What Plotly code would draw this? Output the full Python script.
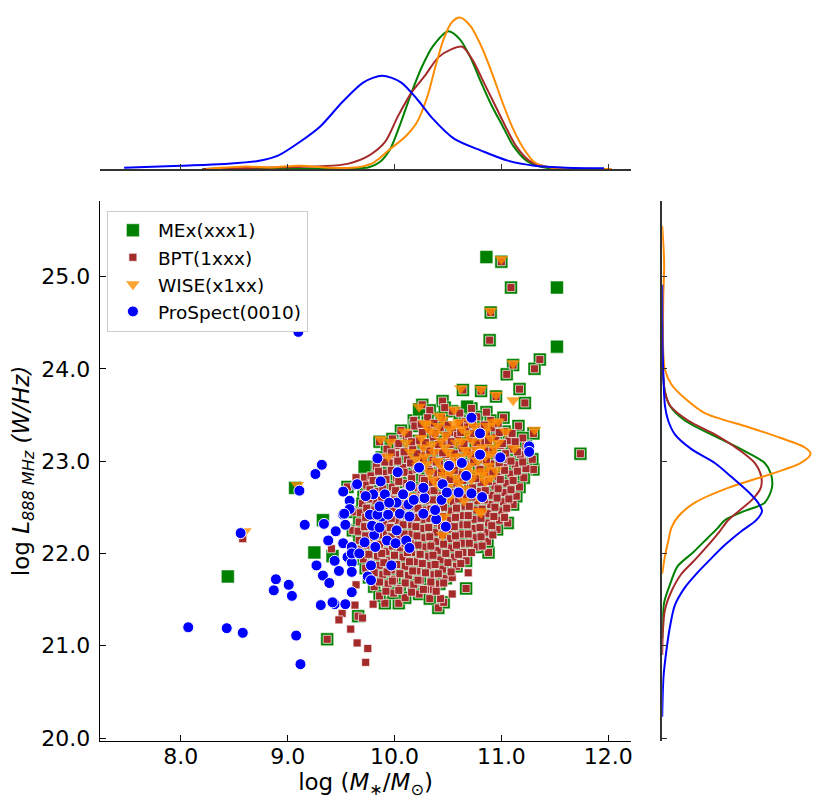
import plotly.graph_objects as go

# galaxies flagged by both MEx and BPT (brown square drawn on a green square)
both_pts = [
    [11.00, 25.16], [11.09, 24.88], [10.90, 24.61], [10.89, 24.31], [11.36, 24.10], [11.31, 24.00],
    [11.11, 24.04], [11.05, 23.94], [11.17, 23.78], [11.22, 23.63], [10.95, 23.70], [10.81, 23.76],
    [10.64, 23.77], [10.45, 23.65], [10.26, 23.61], [11.30, 23.30], [11.74, 23.08], [11.30, 22.91],
    [11.29, 23.02], [11.11, 22.53], [11.06, 22.33], [10.88, 22.01], [10.67, 21.62], [9.37, 21.07],
    [9.66, 21.32], [9.91, 21.46], [10.04, 21.46], [10.41, 21.41], [10.46, 21.47], [10.35, 21.61],
    [10.08, 23.30], [9.86, 23.21], [10.44, 23.47], [10.54, 23.54], [10.61, 23.52], [10.09, 23.11],
    [9.97, 23.02], [9.72, 22.82], [9.56, 22.72], [9.62, 22.45], [9.61, 22.25],
    [10.33, 23.55], [10.47, 23.58], [10.72, 23.57], [10.86, 23.53],
    [10.18, 23.44], [10.31, 23.47], [10.66, 23.43], [10.77, 23.48], [10.90, 23.44], [11.02, 23.47],
    [10.06, 23.33], [10.19, 23.38], [10.32, 23.34], [10.43, 23.36], [10.55, 23.31], [10.68, 23.37],
    [10.79, 23.34], [10.92, 23.36], [11.03, 23.32], [11.16, 23.38],
    [9.98, 23.24], [10.11, 23.27], [10.22, 23.22], [10.36, 23.26], [10.47, 23.21], [10.59, 23.28],
    [10.71, 23.24], [10.82, 23.20], [10.95, 23.26], [11.07, 23.22], [11.20, 23.25],
    [9.93, 23.13], [10.03, 23.17], [10.17, 23.14], [10.28, 23.16], [10.41, 23.11], [10.52, 23.18],
    [10.63, 23.14], [10.76, 23.16], [10.87, 23.11], [10.99, 23.17], [11.10, 23.13], [11.23, 23.16],
    [9.88, 23.04], [10.01, 23.07], [10.12, 23.02], [10.25, 23.06], [10.36, 23.01], [10.48, 23.07],
    [10.59, 23.04], [10.72, 23.07], [10.83, 23.02], [10.96, 23.06], [11.07, 23.01], [11.18, 23.07],
    [9.83, 22.94], [9.95, 22.98], [10.08, 22.93], [10.19, 22.96], [10.32, 22.91], [10.42, 22.97],
    [10.55, 22.94], [10.66, 22.97], [10.79, 22.92], [10.90, 22.97], [11.03, 22.93], [11.13, 22.96],
    [11.23, 22.92],
    [9.78, 22.84], [9.91, 22.87], [10.02, 22.82], [10.15, 22.86], [10.26, 22.81], [10.39, 22.87],
    [10.50, 22.83], [10.62, 22.86], [10.73, 22.81], [10.86, 22.87], [10.97, 22.83], [11.09, 22.86],
    [11.21, 22.82],
    [9.74, 22.74], [9.87, 22.77], [9.98, 22.72], [10.11, 22.76], [10.22, 22.71], [10.35, 22.77],
    [10.46, 22.73], [10.58, 22.76], [10.71, 22.71], [10.81, 22.77], [10.94, 22.73], [11.05, 22.76],
    [11.17, 22.72],
    [9.71, 22.64], [9.84, 22.67], [9.95, 22.62], [10.07, 22.66], [10.20, 22.61], [10.31, 22.67],
    [10.43, 22.63], [10.56, 22.66], [10.67, 22.61], [10.80, 22.67], [10.91, 22.63], [11.03, 22.66],
    [11.14, 22.62],
    [9.70, 22.54], [9.82, 22.57], [9.95, 22.52], [10.06, 22.56], [10.19, 22.51], [10.30, 22.57],
    [10.42, 22.53], [10.55, 22.56], [10.66, 22.51], [10.78, 22.57], [10.90, 22.53], [11.02, 22.56],
    [9.68, 22.44], [9.81, 22.47], [9.92, 22.42], [10.05, 22.46], [10.16, 22.41], [10.29, 22.47],
    [10.40, 22.43], [10.53, 22.46], [10.64, 22.41], [10.77, 22.47], [10.88, 22.43], [11.00, 22.46],
    [9.67, 22.34], [9.79, 22.37], [9.92, 22.32], [10.03, 22.36], [10.16, 22.31], [10.27, 22.37],
    [10.40, 22.33], [10.51, 22.36], [10.64, 22.31], [10.75, 22.37], [10.88, 22.33], [10.98, 22.36],
    [9.66, 22.24], [9.79, 22.27], [9.90, 22.22], [10.03, 22.26], [10.14, 22.21], [10.27, 22.27],
    [10.38, 22.23], [10.51, 22.26], [10.62, 22.21], [10.75, 22.27], [10.86, 22.23], [10.96, 22.26],
    [9.67, 22.14], [9.80, 22.17], [9.91, 22.12], [10.04, 22.16], [10.15, 22.11], [10.28, 22.17],
    [10.39, 22.13], [10.52, 22.16], [10.63, 22.11], [10.76, 22.17], [10.87, 22.13],
    [9.68, 22.04], [9.81, 22.07], [9.92, 22.02], [10.05, 22.06], [10.16, 22.01], [10.29, 22.07],
    [10.40, 22.03], [10.53, 22.06], [10.64, 22.01], [10.77, 22.07],
    [9.71, 21.94], [9.84, 21.97], [9.95, 21.92], [10.08, 21.96], [10.19, 21.91], [10.32, 21.97],
    [10.43, 21.93], [10.56, 21.96], [10.67, 21.92],
    [9.73, 21.84], [9.86, 21.87], [9.97, 21.82], [10.10, 21.86], [10.21, 21.81], [10.34, 21.87],
    [10.45, 21.83], [10.58, 21.86],
    [9.76, 21.74], [9.89, 21.77], [10.00, 21.72], [10.13, 21.76], [10.24, 21.71], [10.37, 21.77],
    [10.48, 21.73],
    [9.81, 21.64], [9.94, 21.67], [10.05, 21.62], [10.18, 21.66], [10.29, 21.61], [10.42, 21.67],
    [9.86, 21.54], [9.99, 21.57], [10.10, 21.52], [10.23, 21.56], [10.33, 21.51],
]

# MEx only (plain green squares)
mex_only_pts = [
    [10.86, 25.21], [11.52, 24.88], [11.52, 24.24], [10.68, 23.59], [10.23, 23.56], [9.97, 23.19],
    [9.72, 22.94], [9.25, 22.01], [8.44, 21.75], [9.07, 22.71], [9.33, 22.36], [9.42, 21.97],
]

# BPT only (plain brown squares), outliers then the packed core of the cloud
bpt_only_pts = [
    [8.58, 22.16], [9.63, 21.44], [9.51, 21.35], [9.48, 21.28], [9.59, 21.18], [9.65, 21.03],
    [9.75, 20.97], [9.73, 20.82], [9.80, 21.45], [10.69, 21.79], [10.54, 21.74], [10.54, 21.56],
    [9.41, 22.05], [9.64, 22.82], [9.64, 21.66], [10.43, 21.51], [9.70, 21.30],
    [10.25, 23.40], [10.37, 23.41], [10.50, 23.39], [10.61, 23.41], [10.73, 23.40], [10.84, 23.39], [10.97, 23.41],
    [10.13, 23.29], [10.26, 23.31], [10.38, 23.30], [10.49, 23.28], [10.62, 23.31], [10.74, 23.30],
    [10.86, 23.29], [10.98, 23.31], [11.10, 23.30],
    [10.04, 23.19], [10.16, 23.21], [10.29, 23.20], [10.41, 23.18], [10.53, 23.21], [10.65, 23.19],
    [10.77, 23.20], [10.88, 23.22], [11.01, 23.19], [11.13, 23.21],
    [9.97, 23.09], [10.09, 23.10], [10.21, 23.08], [10.33, 23.11], [10.45, 23.09], [10.56, 23.08],
    [10.68, 23.10], [10.80, 23.09], [10.92, 23.11], [11.04, 23.08], [11.15, 23.10], [11.25, 23.09],
    [9.91, 22.99], [10.03, 23.00], [10.15, 22.98], [10.27, 23.01], [10.39, 22.99], [10.51, 22.98],
    [10.62, 23.00], [10.74, 22.99], [10.86, 23.01], [10.98, 22.98], [11.09, 23.00], [11.20, 22.99],
    [9.85, 22.89], [9.97, 22.90], [10.09, 22.88], [10.21, 22.91], [10.33, 22.89], [10.44, 22.88],
    [10.56, 22.90], [10.68, 22.89], [10.80, 22.91], [10.92, 22.88], [11.03, 22.90], [11.15, 22.89],
    [9.80, 22.79], [9.92, 22.80], [10.04, 22.78], [10.16, 22.81], [10.28, 22.79], [10.40, 22.78],
    [10.52, 22.80], [10.64, 22.79], [10.76, 22.81], [10.88, 22.78], [10.99, 22.80], [11.11, 22.79],
    [9.77, 22.69], [9.89, 22.70], [10.01, 22.68], [10.13, 22.71], [10.25, 22.69], [10.37, 22.68],
    [10.49, 22.70], [10.61, 22.69], [10.73, 22.71], [10.85, 22.68], [10.97, 22.70], [11.09, 22.69],
    [9.76, 22.59], [9.88, 22.60], [10.00, 22.58], [10.12, 22.61], [10.24, 22.59], [10.36, 22.58],
    [10.48, 22.60], [10.60, 22.59], [10.72, 22.61], [10.84, 22.58], [10.96, 22.60], [11.07, 22.59],
    [9.74, 22.49], [9.86, 22.50], [9.98, 22.48], [10.10, 22.51], [10.22, 22.49], [10.34, 22.48],
    [10.46, 22.50], [10.58, 22.49], [10.70, 22.51], [10.82, 22.48], [10.94, 22.50], [11.05, 22.49],
    [9.73, 22.39], [9.85, 22.40], [9.97, 22.38], [10.09, 22.41], [10.21, 22.39], [10.33, 22.38],
    [10.45, 22.40], [10.57, 22.39], [10.69, 22.41], [10.81, 22.38], [10.93, 22.40], [11.03, 22.39],
    [9.72, 22.29], [9.84, 22.30], [9.96, 22.28], [10.08, 22.31], [10.20, 22.29], [10.32, 22.28],
    [10.44, 22.30], [10.56, 22.29], [10.68, 22.31], [10.80, 22.28], [10.91, 22.30],
    [9.73, 22.19], [9.85, 22.20], [9.97, 22.18], [10.09, 22.21], [10.21, 22.19], [10.33, 22.18],
    [10.45, 22.20], [10.57, 22.19], [10.69, 22.21], [10.81, 22.18], [10.92, 22.20],
    [9.74, 22.09], [9.86, 22.10], [9.98, 22.08], [10.10, 22.11], [10.22, 22.09], [10.34, 22.08],
    [10.46, 22.10], [10.58, 22.09], [10.70, 22.11], [10.82, 22.08],
    [9.76, 21.99], [9.88, 22.00], [10.00, 21.98], [10.12, 22.01], [10.24, 21.99], [10.36, 21.98],
    [10.48, 22.00], [10.60, 21.99], [10.72, 22.01],
    [9.78, 21.89], [9.90, 21.90], [10.02, 21.88], [10.14, 21.91], [10.26, 21.89], [10.38, 21.88],
    [10.50, 21.90], [10.62, 21.89],
    [9.81, 21.79], [9.93, 21.80], [10.05, 21.78], [10.17, 21.81], [10.29, 21.79], [10.41, 21.78],
    [10.53, 21.80],
    [9.86, 21.69], [9.98, 21.70], [10.10, 21.68], [10.22, 21.71], [10.34, 21.69], [10.46, 21.68],
    [9.92, 21.59], [10.04, 21.60], [10.16, 21.58], [10.27, 21.61], [10.39, 21.59],
]

wise_pts = [
    [11.00, 25.19], [10.90, 24.63], [11.11, 24.06], [10.62, 23.79], [10.81, 23.78], [10.95, 23.72],
    [11.11, 23.66], [11.31, 23.34], [10.23, 23.59], [9.96, 23.21], [9.09, 22.74], [8.60, 22.24],
    [9.87, 23.24], [10.28, 23.41], [10.42, 23.49], [10.56, 23.56], [10.09, 23.32], [10.11, 23.20],
    [9.94, 23.05], [11.12, 23.14], [11.04, 23.32], [10.97, 23.43], [10.90, 23.25], [10.79, 22.60],
    [10.65, 22.57], [10.81, 22.44], [10.84, 22.89], [10.14, 22.62], [10.51, 22.60], [10.46, 22.40],
    [10.45, 22.20], [10.79, 22.46],
    [10.30, 23.40], [10.38, 23.30], [10.45, 23.45], [10.52, 23.35], [10.60, 23.42], [10.68, 23.30],
    [10.75, 23.38], [10.85, 23.32], [10.92, 23.42], [10.35, 23.18], [10.44, 23.22], [10.50, 23.10],
    [10.58, 23.20], [10.66, 23.12], [10.73, 23.22], [10.82, 23.15], [10.90, 23.08], [10.28, 23.05],
    [10.40, 23.00], [10.55, 22.98], [10.62, 23.05], [10.70, 22.95], [10.78, 23.00], [10.88, 22.95],
    [10.33, 22.88], [10.46, 22.85], [10.58, 22.82], [10.72, 22.80], [10.85, 22.78], [10.22, 22.95],
    [10.15, 23.10], [10.25, 23.25], [10.97, 23.20], [10.40, 22.75], [10.95, 22.90], [10.65, 22.70],
    [10.50, 22.72],
    [10.33, 23.33], [10.41, 23.38], [10.48, 23.28], [10.56, 23.40], [10.63, 23.35], [10.71, 23.43],
    [10.80, 23.26], [10.87, 23.38], [10.37, 23.10], [10.47, 23.15], [10.55, 23.05], [10.63, 23.22],
    [10.70, 23.08], [10.77, 23.12], [10.85, 23.05], [10.93, 23.15], [10.30, 22.97], [10.45, 22.93],
    [10.52, 22.88], [10.66, 22.90], [10.75, 22.88], [10.82, 22.85], [10.90, 22.82], [10.60, 22.76],
    [10.36, 22.80], [10.27, 23.15], [10.20, 23.02], [10.99, 23.05],
]

prospect_pts = [
    [9.10, 24.40], [8.07, 21.20], [8.43, 21.19], [8.58, 21.14], [9.08, 21.11], [9.12, 20.80],
    [9.31, 21.44], [9.44, 21.45], [9.54, 21.45],
    [9.32, 22.96], [9.26, 22.86], [9.11, 22.68], [9.52, 22.67], [9.58, 22.57], [9.64, 22.74],
    [9.58, 22.48], [9.52, 22.42], [9.16, 22.31], [9.34, 22.32], [8.56, 22.22], [9.45, 22.24],
    [9.54, 22.31], [9.38, 22.14], [9.52, 22.11], [9.60, 22.07], [9.44, 21.92], [9.56, 21.96],
    [9.60, 21.90], [9.48, 21.81], [9.60, 21.80], [9.27, 21.87], [9.33, 21.76], [9.39, 21.68],
    [8.89, 21.72], [9.01, 21.66], [8.87, 21.60], [9.04, 21.54], [9.60, 21.58], [9.42, 21.47],
    [9.53, 22.43], [9.72, 22.12], [9.82, 22.07], [9.93, 22.14], [10.01, 22.11], [10.11, 22.14],
    [10.14, 22.06], [9.81, 22.20], [9.79, 22.30], [9.86, 22.28], [10.02, 22.25], [9.88, 22.40],
    [9.77, 22.42], [9.84, 22.42], [9.94, 22.42], [10.05, 22.43], [10.14, 22.40], [10.27, 22.43],
    [10.39, 22.37], [10.48, 22.29], [10.02, 22.55], [9.86, 22.51], [9.80, 22.64], [9.91, 22.64],
    [10.08, 22.64], [10.28, 22.60], [10.44, 22.58], [10.60, 22.66], [10.72, 22.65], [10.82, 22.61],
    [9.60, 22.00], [9.67, 22.00], [9.78, 21.87], [9.97, 21.87], [9.75, 21.75], [9.78, 21.71],
    [10.72, 23.47], [10.80, 23.30], [10.80, 23.07], [10.99, 23.04], [11.26, 23.16], [11.26, 23.10],
    [10.63, 22.98], [10.51, 22.95], [10.67, 22.84], [10.23, 22.93], [10.03, 22.88], [9.84, 23.03],
    [9.87, 22.78], [9.65, 22.75], [10.15, 22.73], [10.27, 22.71], [10.45, 22.75], [10.49, 22.66],
    [9.73, 22.62], [10.13, 22.53], [9.95, 22.55], [10.18, 22.58], [10.38, 22.47],
]

# marginal KDE curves
kde_mass_x = {
    "prospect": [7.47, 8.00, 8.40, 8.71, 8.91, 9.11, 9.31, 9.51, 9.71, 9.885, 10.06, 10.21, 10.36,
                 10.56, 10.81, 11.06, 11.31, 11.61, 11.96],
    "mex": [8.20, 9.40, 9.61, 9.76, 9.86, 9.96, 10.06, 10.16, 10.26, 10.36, 10.50, 10.61, 10.71, 10.81,
            10.91, 11.01, 11.11, 11.235, 11.36, 11.51, 12.00],
    "bpt": [8.21, 9.01, 9.31, 9.56, 9.76, 9.91, 10.035, 10.16, 10.285, 10.41, 10.535, 10.635, 10.735,
            10.835, 10.935, 11.035, 11.135, 11.26, 11.41, 11.61, 12.03],
    "wise": [8.24, 8.61, 8.85, 9.11, 9.41, 9.66, 9.81, 9.96, 10.11, 10.21, 10.31, 10.385, 10.46, 10.535,
             10.61, 10.71, 10.81, 10.91, 11.01, 11.11, 11.21, 11.31, 11.46, 11.61, 12.03],
}
kde_mass_d = {
    "prospect": [0.009, 0.028, 0.043, 0.066, 0.114, 0.229, 0.369, 0.572, 0.743, 0.80, 0.743, 0.60, 0.429,
                 0.257, 0.157, 0.071, 0.028, 0.011, 0.006],
    "mex": [0.0, 0.001, 0.003, 0.015, 0.057, 0.171, 0.40, 0.657, 0.883, 1.054, 1.18, 1.114, 0.957, 0.743,
            0.542, 0.371, 0.20, 0.071, 0.020, 0.002, 0.0],
    "bpt": [0.0, 0.015, 0.023, 0.043, 0.114, 0.229, 0.457, 0.657, 0.80, 0.957, 1.028, 1.048, 0.928, 0.743,
            0.557, 0.371, 0.20, 0.071, 0.020, 0.006, 0.0],
    "wise": [0.0, 0.020, 0.012, 0.028, 0.009, 0.015, 0.057, 0.171, 0.285, 0.40, 0.628, 0.885, 1.114, 1.257,
             1.30, 1.228, 1.057, 0.829, 0.572, 0.343, 0.171, 0.057, 0.011, 0.002, 0.0],
}
kde_lum_y = {
    "prospect": [24.91, 24.20, 23.60, 23.44, 23.29, 23.13, 22.98, 22.83, 22.67, 22.55, 22.46, 22.36, 22.24,
                 22.09, 21.93, 21.78, 21.63, 21.44, 21.20, 20.93, 20.66, 20.23],
    "mex": [24.50, 23.99, 23.75, 23.60, 23.44, 23.29, 23.13, 22.98, 22.86, 22.71, 22.55, 22.46, 22.36,
            22.28, 22.17, 22.01, 21.86, 21.66, 21.47, 21.28, 21.08],
    "bpt": [24.50, 23.99, 23.75, 23.60, 23.44, 23.29, 23.13, 22.98, 22.83, 22.71, 22.59, 22.48, 22.36,
            22.24, 22.09, 21.93, 21.78, 21.59, 21.39, 21.16, 20.90],
    "wise": [25.55, 25.15, 24.76, 24.18, 23.99, 23.83, 23.68, 23.52, 23.37, 23.25, 23.15, 23.08, 22.98,
             22.86, 22.71, 22.55, 22.40, 22.28, 22.13, 21.97, 21.78],
}
kde_lum_d = {
    "prospect": [0.0, 0.004, 0.024, 0.052, 0.111, 0.256, 0.461, 0.606, 0.752, 0.839, 0.874, 0.824, 0.693,
                 0.548, 0.417, 0.30, 0.198, 0.111, 0.067, 0.035, 0.011, 0.0],
    "mex": [0.0, 0.004, 0.024, 0.067, 0.198, 0.428, 0.69, 0.898, 0.953, 0.961, 0.898, 0.723, 0.548,
            0.49, 0.40, 0.27, 0.134, 0.067, 0.017, 0.004, 0.0],
    "bpt": [0.0, 0.006, 0.024, 0.07, 0.227, 0.461, 0.664, 0.81, 0.868, 0.863, 0.795, 0.693, 0.577,
            0.504, 0.402, 0.286, 0.169, 0.081, 0.024, 0.006, 0.0],
    "wise": [0.0, 0.017, 0.009, 0.009, 0.024, 0.081, 0.198, 0.373, 0.752, 1.04, 1.247, 1.30, 1.215,
             0.953, 0.577, 0.286, 0.14, 0.081, 0.052, 0.024, 0.0],
}

x_ticks = [8.0, 9.0, 10.0, 11.0, 12.0]
y_ticks = [20.0, 21.0, 22.0, 23.0, 24.0, 25.0]

mex_pts = both_pts + mex_only_pts
bpt_pts = both_pts + bpt_only_pts

colors = {"mex": "green", "bpt": "#a52a2a", "wise": "darkorange", "prospect": "blue"}

fig = go.Figure()

fig.add_trace(go.Scatter(
    x=[p[0] for p in mex_pts], y=[p[1] for p in mex_pts], mode="markers", name="MEx(xxx1)",
    marker=dict(symbol="square", size=13, color=colors["mex"],
                line=dict(color="rgba(255,255,255,0.55)", width=1)),
))
fig.add_trace(go.Scatter(
    x=[p[0] for p in bpt_pts], y=[p[1] for p in bpt_pts], mode="markers", name="BPT(1xxx)",
    marker=dict(symbol="square", size=8, color=colors["bpt"],
                line=dict(color="rgba(255,255,255,0.7)", width=1)),
))
fig.add_trace(go.Scatter(
    x=[p[0] for p in wise_pts], y=[p[1] for p in wise_pts], mode="markers", name="WISE(x1xx)",
    marker=dict(symbol="triangle-down", size=12, color=colors["wise"], opacity=0.8, line=dict(width=0)),
))
fig.add_trace(go.Scatter(
    x=[p[0] for p in prospect_pts], y=[p[1] for p in prospect_pts], mode="markers", name="ProSpect(0010)",
    marker=dict(symbol="circle", size=11, color=colors["prospect"], line=dict(color="white", width=1)),
))

for key in ["mex", "bpt", "wise", "prospect"]:
    fig.add_trace(go.Scatter(
        x=kde_mass_x[key], y=kde_mass_d[key], mode="lines", xaxis="x2", yaxis="y2", showlegend=False,
        line=dict(color=colors[key], width=2, shape="spline", smoothing=0.8), hoverinfo="skip",
    ))
    fig.add_trace(go.Scatter(
        x=kde_lum_d[key], y=kde_lum_y[key], mode="lines", xaxis="x3", yaxis="y3", showlegend=False,
        line=dict(color=colors[key], width=2, shape="spline", smoothing=0.8), hoverinfo="skip",
    ))

font = "DejaVu Sans, Arial, sans-serif"
x_range = [7.243, 12.215]
y_range = [19.968, 25.82]
axis_common = dict(showgrid=False, zeroline=False, showline=True, linecolor="black", linewidth=1.3,
                   ticks="inside", ticklen=6, tickwidth=1.2, tickcolor="black")

# page body keeps its 8px margin, so the figure is sized to sit inside the window
fig.update_layout(
    width=815, height=805,
    margin=dict(l=0, r=0, t=0, b=0),
    paper_bgcolor="white", plot_bgcolor="white",
    font=dict(family=font, color="black"),
    xaxis=dict(domain=[0.1129, 0.7656], range=x_range, tickvals=x_ticks,
               ticktext=[f"{v:.1f}" for v in x_ticks], tickfont=dict(size=22), ticklabelstandoff=-5,
               title=dict(text="log (<i>M</i><sub>∗</sub>/<i>M</i><sub>⊙</sub>)", font=dict(size=23), standoff=6),
               anchor="y", **axis_common),
    yaxis=dict(domain=[0.0780, 0.7575], range=y_range, tickvals=y_ticks,
               ticktext=[f"{v:.1f}" for v in y_ticks], tickfont=dict(size=22), ticklabelstandoff=4,
               title=dict(text="log <i>L</i><sub><i>888 MHz</i></sub> <i>(W/Hz)</i>", font=dict(size=23), standoff=6),
               anchor="x", **axis_common),
    xaxis2=dict(domain=[0.1129, 0.7656], range=x_range, tickvals=x_ticks, showticklabels=False,
                anchor="y2", showgrid=False, zeroline=False, showline=True, linecolor="#333333",
                linewidth=1.5, ticks="inside", ticklen=5, tickwidth=1, tickcolor="#333333"),
    yaxis2=dict(domain=[0.7976, 0.9977], range=[0, 1.365], visible=False, anchor="x2"),
    xaxis3=dict(domain=[0.8037, 0.9951], range=[0, 1.365], visible=False, anchor="y3"),
    yaxis3=dict(domain=[0.0780, 0.7575], range=y_range, tickvals=y_ticks, showticklabels=False,
                anchor="x3", showgrid=False, zeroline=False, showline=True, linecolor="#333333",
                linewidth=1.5, ticks="inside", ticklen=5, tickwidth=1, tickcolor="#333333"),
    legend=dict(x=0.1215, y=0.7450, xanchor="left", yanchor="top", bgcolor="white",
                bordercolor="#cccccc", borderwidth=1, font=dict(size=18.5), itemsizing="trace",
                itemwidth=40),
    showlegend=True,
)

fig.write_html("out.html")
